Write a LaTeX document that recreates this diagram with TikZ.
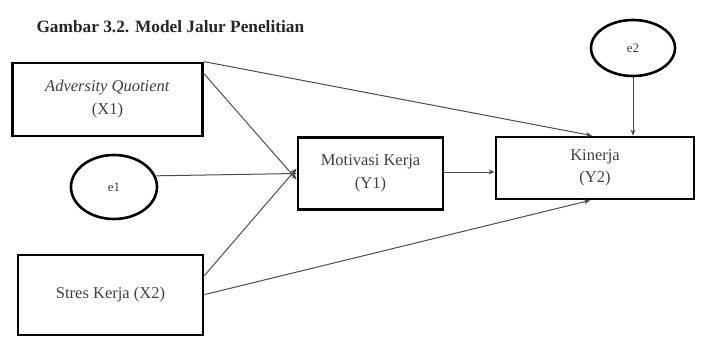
\documentclass[tikz,border=0pt]{standalone}
\usepackage{fontspec}
\setmainfont{Liberation Serif}
\usetikzlibrary{shapes.geometric,arrows.meta}
\begin{document}
\begin{tikzpicture}[x=1pt,y=-1pt,
  box/.style={draw,line width=2.8pt,inner sep=0pt,align=center,font=\fontsize{16.5}{19}\selectfont,text=black!75},
  err/.style={draw,ellipse,line width=2.6pt,inner sep=0pt,font=\fontsize{13}{15}\selectfont,text=black!75},
  arr/.style={draw=black!70,line width=1pt,-{Stealth[length=6pt,width=5pt]}}]
\useasboundingbox (0,0) rectangle (702,338);
\node[font=\bfseries\fontsize{17.3}{20}\selectfont,anchor=west,text=black!85] (title) at (33,27) {Gambar 3.2. Model Jalur Penelitian};
\node[box,minimum width=190pt,minimum height=73pt] (x1) at (107.5,99.5) {\textit{Adversity Quotient}\\[4pt](X1)};
\node[err,minimum width=86pt,minimum height=64pt] (e1) at (114,187) {e1};
\node[box,minimum width=145pt,minimum height=72pt] (y1) at (370.5,173.5) {Motivasi Kerja\\[4pt](Y1)};
\node[box,minimum width=198pt,minimum height=62pt] (y2) at (595,168) {Kinerja\\[3pt](Y2)};
\node[err,minimum width=84pt,minimum height=56pt] (e2) at (633,48) {e2};
\node[box,minimum width=185pt,minimum height=80pt] (x2) at (110.5,295) {Stres Kerja (X2)};
\draw[arr] (x1.north east) -- (y2.north -| 592,0);
\draw[arr] ([yshift=-12pt]x1.north east) -- ([yshift=-6pt]y1.west);
\draw[arr] (e1.15) -- (y1.west);
\draw[arr] ([yshift=-22pt]x2.north east) -- ([yshift=5pt]y1.west);
\draw[arr] (y1.east |- 0,172) -- (y2.west |- 0,172);
\draw[arr] ([yshift=-41pt]x2.north east) -- (y2.south -| 590,0);
\draw[arr] (e2.south) -- (y2.north -| e2.south);
\end{tikzpicture}
\end{document}
